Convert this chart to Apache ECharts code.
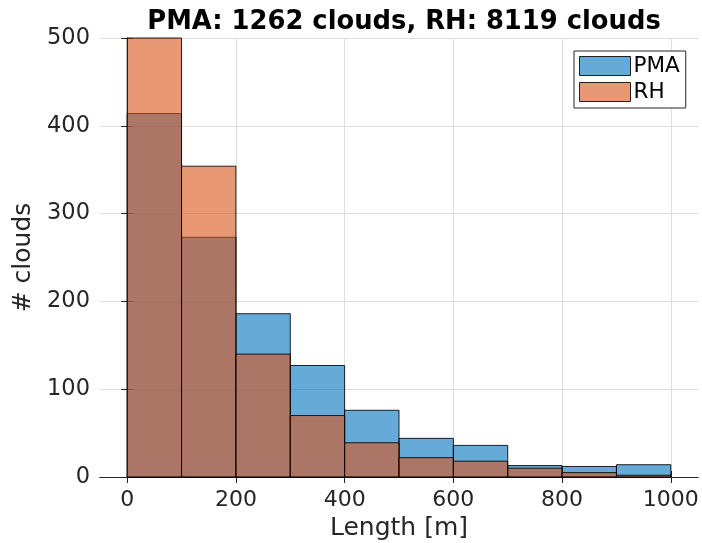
<!DOCTYPE html>
<html>
<head>
<meta charset="utf-8">
<script src="https://cdn.jsdelivr.net/npm/echarts@6/dist/echarts.min.js"></script>
<style>
  html, body { margin: 0; padding: 0; background: #fff; }
  #chart { width: 702px; height: 543px; }
</style>
</head>
<body>
<div id="chart"></div>
<script>
// Histogram bins: left edges (m) and common width
const binStarts = [0, 100, 200, 300, 400, 500, 600, 700, 800, 900];
const binWidth = 100;

// Cloud counts per length bin
const pmaCounts = [414, 273, 186, 127, 76, 44, 36, 13, 12, 14];
const rhCounts  = [580, 354, 140, 70, 39, 22, 18, 10, 5, 2];

// Axis ticks
const xTicks = [0, 200, 400, 600, 800, 1000];

const titleText = 'PMA: 1262 clouds, RH: 8119 clouds';
const FONT = '"DejaVu Sans", sans-serif';

const pmaFill = 'rgba(0,114,189,0.6)';
const rhFill = 'rgba(217,83,25,0.6)';
const edge = 'rgba(0,0,0,0.85)';

function seriesData(counts) {
  return binStarts.map((x0, i) => [x0, x0 + binWidth, counts[i]]);
}

function makeRender(fill) {
  return function (params, api) {
    const p0 = api.coord([api.value(0), api.value(2)]);
    const p1 = api.coord([api.value(1), 0]);
    const rect = echarts.graphic.clipRectByRect(
      { x: p0[0], y: p0[1], width: p1[0] - p0[0], height: p1[1] - p0[1] },
      { x: params.coordSys.x, y: params.coordSys.y,
        width: params.coordSys.width, height: params.coordSys.height }
    );
    if (!rect) return null;
    return {
      type: 'rect',
      shape: rect,
      style: { fill: fill, stroke: edge, lineWidth: 1 }
    };
  };
}

const chart = echarts.init(document.getElementById('chart'), null, { renderer: 'canvas' });

const axisColor = '#262626';
const plainNumber = v => String(v);

chart.setOption({
  animation: false,
  backgroundColor: '#fff',
  textStyle: { fontFamily: FONT },
  title: {
    text: titleText,
    left: 399,
    textAlign: 'center',
    top: 4,
    textStyle: { fontFamily: FONT, fontSize: 25.8, fontWeight: 'bold', color: '#000' }
  },
  legend: {
    orient: 'vertical',
    left: 574,
    top: 51,
    padding: [4, 6, 5, 5],
    itemWidth: 51,
    itemHeight: 19,
    itemGap: 4,
    backgroundColor: '#fff',
    borderColor: axisColor,
    borderWidth: 1,
    icon: 'rect',
    textStyle: { fontFamily: FONT, fontSize: 21.5, color: '#000', padding: [0, 0, 0, -2] },
    data: [
      { name: 'PMA', itemStyle: { color: pmaFill, borderColor: edge, borderWidth: 1 } },
      { name: 'RH', itemStyle: { color: rhFill, borderColor: edge, borderWidth: 1 } }
    ]
  },
  grid: { left: 100, right: 4, top: 38, bottom: 66, containLabel: false, outerBoundsMode: 'none' },
  xAxis: [
    {
      type: 'value',
      min: -50,
      max: 1050,
      position: 'bottom',
      name: 'Length [m]',
      nameLocation: 'middle',
      nameGap: 36,
      nameTextStyle: { fontFamily: FONT, fontSize: 25, color: axisColor },
      axisLine: { show: true, lineStyle: { color: axisColor, width: 1 } },
      axisTick: { show: true, inside: true, length: 6, customValues: xTicks, lineStyle: { color: axisColor } },
      axisLabel: { customValues: xTicks, formatter: plainNumber, fontFamily: FONT, fontSize: 22, color: axisColor, margin: 12 },
      splitLine: { show: true, lineStyle: { color: '#dedede', width: 1 } }
    },
    {
      type: 'value',
      min: -50,
      max: 1050,
      position: 'top',
      axisLine: { show: true, lineStyle: { color: axisColor, width: 1 } },
      axisTick: { show: true, inside: true, length: 6, customValues: xTicks, lineStyle: { color: axisColor } },
      axisLabel: { show: false },
      splitLine: { show: false }
    }
  ],
  yAxis: [
    {
      type: 'value',
      min: 0,
      max: 500,
      interval: 100,
      position: 'left',
      name: '# clouds',
      nameLocation: 'middle',
      nameGap: 60,
      nameTextStyle: { fontFamily: FONT, fontSize: 25, color: axisColor },
      axisLine: { show: true, lineStyle: { color: axisColor, width: 1 } },
      axisTick: { show: true, inside: true, length: 6, lineStyle: { color: axisColor } },
      axisLabel: { formatter: plainNumber, fontFamily: FONT, fontSize: 22.5, color: axisColor, margin: 10 },
      splitLine: { show: true, lineStyle: { color: '#dedede', width: 1 } }
    },
    {
      type: 'value',
      min: 0,
      max: 500,
      interval: 100,
      position: 'right',
      axisLine: { show: true, lineStyle: { color: axisColor, width: 1 } },
      axisTick: { show: true, inside: true, length: 6, lineStyle: { color: axisColor } },
      axisLabel: { show: false },
      splitLine: { show: false }
    }
  ],
  series: [
    {
      name: 'PMA',
      type: 'custom',
      xAxisIndex: 0,
      yAxisIndex: 0,
      renderItem: makeRender(pmaFill),
      itemStyle: { color: pmaFill, borderColor: edge, borderWidth: 1 },
      encode: { x: [0, 1], y: 2 },
      data: seriesData(pmaCounts),
      z: 2
    },
    {
      name: 'RH',
      type: 'custom',
      xAxisIndex: 0,
      yAxisIndex: 0,
      renderItem: makeRender(rhFill),
      itemStyle: { color: rhFill, borderColor: edge, borderWidth: 1 },
      encode: { x: [0, 1], y: 2 },
      data: seriesData(rhCounts),
      z: 3
    }
  ]
});
</script>
</body>
</html>
